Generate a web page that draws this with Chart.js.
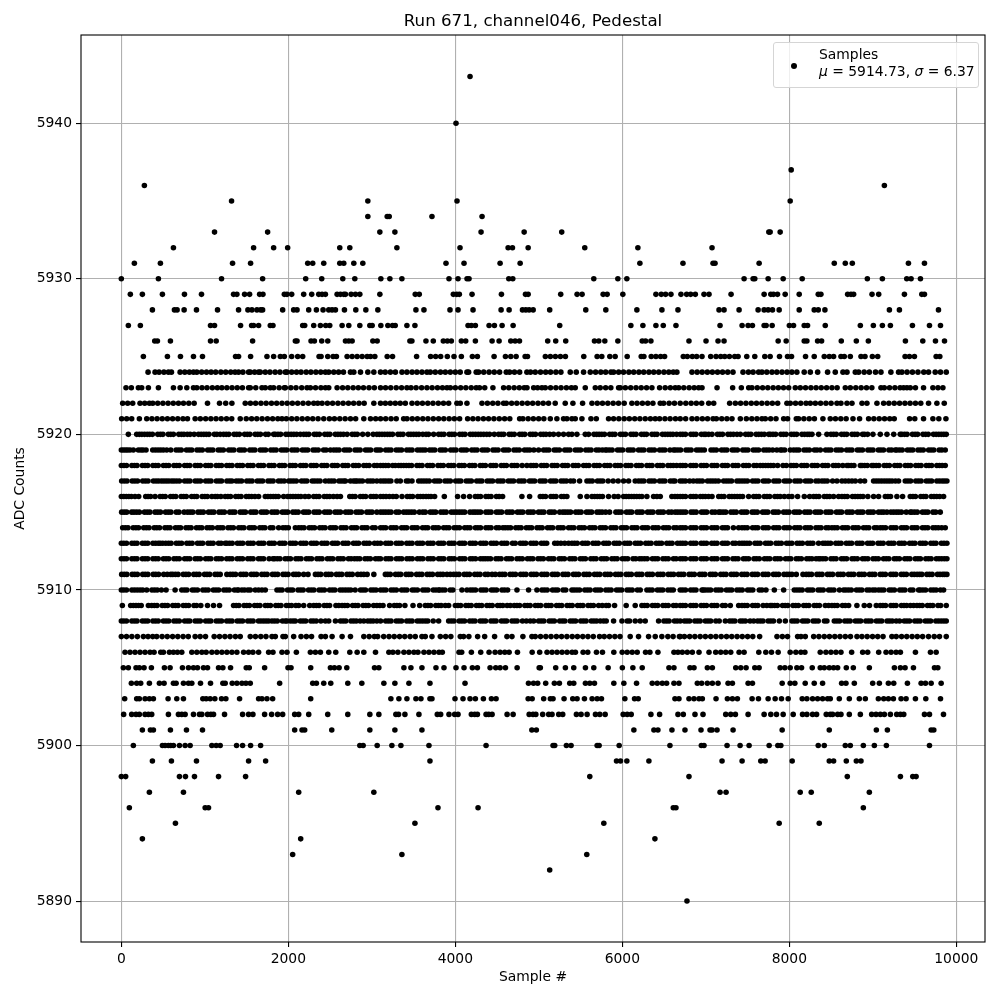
<!DOCTYPE html>
<html>
<head>
<meta charset="utf-8">
<title>Run 671 pedestal</title>
<script src="https://cdn.jsdelivr.net/npm/chart.js@4/dist/chart.umd.min.js"></script>
<style>
  body { margin: 0; background: #fff; }
  #wrap { position: relative; width: 1000px; height: 1000px; }
  #legend { position: absolute; left: 773px; top: 42px; width: 204px; height: 44px; border: 1px solid #d5d5d5; border-radius: 3px;
    background: rgba(255,255,255,0.8); font: 13.89px "DejaVu Sans"; color: #000; }
  #legend .dot { position: absolute; left: 17px; top: 20px; width: 6px; height: 6px; border-radius: 50%; background: #000; }
  #legend .txt { position: absolute; left: 45px; top: 3px; line-height: 17px; white-space: nowrap; }
</style>
</head>
<body>
<div id="wrap">
  <canvas id="chart" width="1000" height="1000"></canvas>
  <div id="legend"><span class="dot"></span><div class="txt">Samples<br><i>μ</i> = 5914.73, <i>σ</i> = 6.37</div></div>
</div>
<script>
// sample numbers, one list per ADC level
var row5943 = [4176];
var row5940 = [4008];
var row5937 = [8022];
var row5936 = [276, 9138];
var row5935 = [1320, 2952, 4020, 8010];
var row5934 = [2952, 3184, 3208, 3720, 4320];
var row5933 = [1116, 1752, 3096, 3276, 4308, 4824, 5274, 7754, 7770, 7890];
var row5932 = [624, 1584, 1824, 1992, 2616, 2736, 3300, 4056, 4632, 4684, 4872, 5550, 6186, 7074];
var row5931 = [156, 468, 1332, 1548, 2232, 2292, 2424, 2616, 2664, 2784, 2892, 3888, 4104, 4536, 4776, 6210, 6726, 7086, 7110, 7638, 8538, 8670, 8754, 9426, 9618];
var row5930 = [0, 444, 1200, 1692, 2208, 2400, 2652, 2796, 3108, 3216, 3360, 3924, 4032, 4140, 4164, 4640, 4688, 5658, 5946, 6054, 7458, 7566, 7586, 7746, 7926, 8154, 8934, 9114, 9406, 9458, 9570];
var row5929 = [108, 252, 492, 756, 960, 1344, 1384, 1476, 1536, 1656, 1696, 1952, 1984, 2040, 2184, 2280, 2364, 2404, 2444, 2584, 2624, 2664, 2684, 2752, 2804, 2856, 3096, 3520, 3568, 3976, 4016, 4048, 4200, 4552, 4840, 4872, 5262, 5458, 5518, 5770, 5818, 6006, 6402, 6466, 6518, 6582, 6702, 6770, 6818, 6874, 6978, 7038, 7302, 7698, 7778, 7810, 7858, 7950, 8118, 8346, 8378, 8698, 8738, 8770, 8990, 9070, 9378, 9586, 9618];
var row5928 = [372, 636, 668, 752, 900, 1152, 1404, 1516, 1564, 1624, 1668, 1692, 1932, 2064, 2104, 2244, 2336, 2416, 2484, 2524, 2564, 2672, 2808, 2928, 3072, 3528, 3624, 3936, 4032, 4212, 4548, 4644, 4804, 4844, 4884, 4932, 5130, 5562, 5802, 6174, 6474, 6666, 7158, 7218, 7398, 7626, 7698, 7746, 7798, 7878, 8118, 8298, 8346, 8426, 9198, 9318, 9786];
var row5927 = [84, 228, 1068, 1116, 1428, 1560, 1584, 1644, 1784, 1816, 2172, 2196, 2304, 2384, 2448, 2496, 2644, 2724, 2856, 2976, 3004, 3108, 3192, 3248, 3280, 3420, 3516, 4152, 4192, 4240, 4404, 4468, 4560, 4692, 5250, 6102, 6246, 6402, 6490, 6642, 7170, 7434, 7506, 7558, 7698, 7722, 7794, 8000, 8050, 8178, 8218, 8430, 8850, 9006, 9114, 9210, 9474, 9678, 9810];
var row5926 = [400, 432, 588, 1068, 1136, 1572, 2084, 2104, 2272, 2312, 2400, 2472, 2684, 2724, 2764, 3012, 3064, 3456, 3480, 3648, 3736, 3856, 3904, 3952, 4072, 4124, 4240, 4440, 4524, 4664, 4716, 4768, 5106, 5202, 5322, 5666, 5718, 5790, 5946, 6238, 6278, 6342, 6798, 7002, 7146, 7218, 7866, 7962, 8178, 8210, 8338, 8386, 8622, 8802, 8946, 9390, 9598, 9750, 9858];
var row5925 = [264, 552, 708, 864, 972, 1368, 1404, 1548, 1744, 1824, 1904, 1952, 2040, 2112, 2172, 2368, 2392, 2472, 2536, 2576, 2704, 2764, 2824, 2884, 2944, 2984, 3036, 3184, 3248, 3536, 3704, 3764, 3824, 3904, 3984, 4072, 4204, 4264, 4464, 4600, 4664, 4728, 4836, 4864, 5078, 5138, 5198, 5258, 5318, 5538, 5698, 5754, 5850, 5914, 6058, 6226, 6258, 6346, 6402, 6458, 6506, 6730, 6778, 6838, 6890, 6954, 7058, 7122, 7178, 7226, 7282, 7346, 7386, 7490, 7586, 7706, 7770, 7882, 7978, 8026, 8194, 8298, 8418, 8478, 8530, 8618, 8658, 8730, 8858, 8906, 8994, 9058, 9386, 9438, 9498, 9758, 9802];
var row5924 = [320, 404, 452, 510, 564, 600, 704, 760, 815, 864, 904, 962, 1020, 1075, 1130, 1192, 1250, 1310, 1362, 1404, 1456, 1524, 1544, 1596, 1644, 1664, 1724, 1780, 1842, 1900, 1964, 1984, 2040, 2098, 2152, 2214, 2270, 2330, 2388, 2444, 2484, 2544, 2602, 2660, 2744, 2784, 2864, 2952, 3024, 3104, 3160, 3222, 3282, 3361, 3420, 3482, 3540, 3600, 3660, 3700, 3760, 3822, 3880, 3940, 4000, 4058, 4139, 4159, 4250, 4279, 4340, 4404, 4466, 4530, 4610, 4650, 4708, 4770, 4857, 4900, 4957, 5020, 5082, 5140, 5204, 5264, 5376, 5448, 5536, 5616, 5680, 5742, 5800, 5863, 5895, 5956, 6014, 6078, 6136, 6198, 6256, 6318, 6376, 6436, 6498, 6556, 6610, 6653, 6834, 6896, 6956, 7018, 7078, 7140, 7200, 7262, 7325, 7445, 7510, 7566, 7632, 7672, 7730, 7792, 7850, 7912, 7972, 8030, 8090, 8178, 8251, 8339, 8458, 8550, 8642, 8690, 8790, 8830, 8896, 8958, 9032, 9097, 9216, 9308, 9348, 9410, 9474, 9540, 9610, 9667, 9747, 9810, 9879];
var row5923 = [56, 120, 204, 244, 324, 444, 624, 704, 784, 864, 904, 966, 1026, 1090, 1150, 1204, 1264, 1326, 1388, 1450, 1524, 1544, 1610, 1684, 1724, 1784, 1824, 1890, 1952, 1964, 2030, 2092, 2160, 2224, 2264, 2326, 2390, 2444, 2484, 2584, 2650, 2712, 2776, 2838, 2900, 2966, 3030, 3104, 3164, 3226, 3292, 3356, 3420, 3469, 3530, 3596, 3660, 3722, 3786, 3846, 3900, 3940, 4000, 4064, 4126, 4190, 4250, 4290, 4352, 4450, 4578, 4640, 4704, 4766, 4825, 4858, 4938, 4985, 5037, 5077, 5140, 5204, 5266, 5330, 5390, 5436, 5556, 5676, 5735, 5800, 5862, 5955, 5975, 6036, 6100, 6164, 6226, 6290, 6354, 6446, 6513, 6575, 6633, 6675, 6736, 6800, 6860, 6914, 6954, 7134, 7321, 7425, 7513, 7552, 7616, 7680, 7742, 7806, 7868, 7930, 7992, 8071, 8131, 8194, 8258, 8320, 8382, 8446, 8510, 8572, 8670, 8730, 8796, 8860, 8924, 8988, 9097, 9137, 9200, 9264, 9326, 9368, 9408, 9448, 9510, 9607, 9719, 9780, 9839];
var row5922 = [16, 76, 136, 224, 280, 336, 376, 436, 498, 560, 622, 684, 744, 808, 872, 1032, 1176, 1250, 1324, 1484, 1546, 1608, 1672, 1734, 1798, 1860, 1924, 1986, 2048, 2112, 2176, 2240, 2304, 2352, 2404, 2468, 2530, 2594, 2656, 2720, 2782, 2846, 2908, 3024, 3104, 3162, 3221, 3281, 3340, 3401, 3481, 3544, 3606, 3670, 3732, 3796, 3858, 3920, 4019, 4059, 4139, 4319, 4384, 4448, 4510, 4578, 4610, 4674, 4736, 4800, 4864, 4926, 4990, 5052, 5116, 5196, 5316, 5408, 5524, 5636, 5700, 5762, 5826, 5890, 5954, 6022, 6114, 6176, 6240, 6304, 6366, 6454, 6494, 6560, 6624, 6693, 6760, 6824, 6886, 6950, 7034, 7094, 7285, 7353, 7416, 7480, 7544, 7606, 7670, 7734, 7796, 7860, 7971, 8011, 8074, 8136, 8200, 8251, 8311, 8374, 8438, 8500, 8570, 8618, 8690, 8750, 8870, 8929, 9049, 9129, 9192, 9256, 9320, 9384, 9446, 9510, 9574, 9667, 9767, 9855];
var row5921 = [4, 64, 124, 216, 304, 366, 428, 490, 552, 614, 676, 738, 792, 884, 946, 1010, 1072, 1134, 1196, 1260, 1322, 1424, 1496, 1560, 1622, 1686, 1750, 1812, 1874, 1924, 1976, 2040, 2102, 2166, 2230, 2292, 2356, 2424, 2492, 2552, 2616, 2680, 2744, 2806, 2904, 2984, 3046, 3104, 3166, 3230, 3292, 3381, 3421, 3484, 3546, 3610, 3672, 3736, 3800, 3862, 3926, 3988, 4051, 4147, 4210, 4272, 4336, 4398, 4462, 4526, 4590, 4652, 4770, 4809, 4872, 4934, 4998, 5060, 5137, 5216, 5296, 5336, 5396, 5436, 5516, 5624, 5688, 5835, 5895, 5958, 6022, 6084, 6148, 6210, 6274, 6336, 6394, 6446, 6510, 6572, 6636, 6693, 6758, 6834, 6894, 6958, 7020, 7086, 7126, 7190, 7252, 7313, 7413, 7485, 7550, 7612, 7672, 7712, 7776, 7840, 7932, 7979, 8083, 8111, 8174, 8238, 8300, 8402, 8490, 8552, 8616, 8680, 8762, 8841, 8949, 9012, 9076, 9140, 9202, 9256, 9440, 9502, 9607, 9719, 9790, 9875];
var row5920 = [84, 184, 246, 310, 372, 436, 498, 562, 624, 688, 750, 824, 872, 924, 988, 1050, 1114, 1184, 1224, 1288, 1350, 1414, 1476, 1540, 1602, 1666, 1728, 1824, 1844, 1908, 1970, 2034, 2144, 2184, 2246, 2310, 2372, 2436, 2498, 2562, 2626, 2704, 2764, 2826, 2952, 3016, 3060, 3122, 3186, 3248, 3312, 3374, 3438, 3500, 3564, 3680, 3740, 3800, 3864, 3926, 3990, 4052, 4116, 4178, 4242, 4306, 4410, 4466, 4518, 4580, 4644, 4706, 4770, 4832, 4896, 4960, 5022, 5086, 5176, 5236, 5296, 5356, 5396, 5456, 5556, 5596, 5660, 5722, 5786, 5848, 5912, 5976, 6038, 6102, 6164, 6228, 6290, 6354, 6416, 6480, 6544, 6606, 6693, 6756, 6820, 6882, 6946, 7034, 7074, 7138, 7200, 7264, 7373, 7413, 7476, 7540, 7602, 7666, 7752, 7772, 7836, 7898, 7962, 8024, 8088, 8150, 8214, 8271, 8351, 8450, 8498, 8562, 8624, 8688, 8750, 8814, 8876, 8937, 9001, 9089, 9169, 9250, 9328, 9348, 9410, 9474, 9536, 9600, 9664, 9726, 9790, 9879];
var row5919 = [0, 52, 104, 144, 204, 296, 376, 440, 504, 592, 656, 718, 780, 844, 906, 970, 1034, 1096, 1160, 1222, 1286, 1348, 1412, 1474, 1538, 1600, 1664, 1728, 1790, 1854, 1916, 1980, 2042, 2106, 2168, 2232, 2296, 2358, 2422, 2504, 2544, 2608, 2670, 2734, 2798, 2860, 2924, 2986, 3050, 3104, 3166, 3230, 3292, 3356, 3418, 3482, 3546, 3640, 3692, 3754, 3818, 3880, 3944, 4008, 4070, 4134, 4196, 4260, 4322, 4386, 4450, 4512, 4576, 4638, 4702, 4766, 4828, 4892, 4997, 5057, 5120, 5184, 5246, 5310, 5372, 5436, 5500, 5562, 5626, 5688, 5795, 5815, 5878, 5942, 6004, 6068, 6130, 6194, 6258, 6320, 6384, 6446, 6510, 6613, 6635, 6698, 6762, 6824, 6888, 6982, 7062, 7126, 7188, 7252, 7316, 7378, 7442, 7504, 7568, 7632, 7694, 7758, 7892, 7912, 8011, 8051, 8114, 8176, 8240, 8331, 8371, 8434, 8498, 8560, 8624, 8686, 8750, 8814, 8876, 8940, 9002, 9066, 9128, 9192, 9268, 9288, 9352, 9414, 9478, 9540, 9604, 9668, 9730, 9794, 9867];
var row5918 = [0, 62, 126, 188, 252, 316, 378, 442, 504, 568, 630, 694, 758, 820, 884, 946, 1010, 1072, 1136, 1200, 1262, 1326, 1388, 1452, 1514, 1578, 1642, 1704, 1768, 1830, 1894, 1956, 2020, 2084, 2146, 2210, 2272, 2336, 2400, 2462, 2526, 2588, 2652, 2714, 2778, 2842, 2904, 2968, 3030, 3104, 3166, 3281, 3321, 3381, 3413, 3476, 3540, 3602, 3666, 3728, 3792, 3856, 3918, 3982, 4044, 4108, 4170, 4234, 4298, 4360, 4424, 4486, 4550, 4612, 4676, 4740, 4857, 4905, 4968, 5030, 5094, 5158, 5220, 5284, 5346, 5410, 5472, 5536, 5600, 5662, 5726, 5788, 5852, 5914, 5978, 6042, 6104, 6168, 6230, 6294, 6356, 6420, 6484, 6546, 6610, 6693, 6756, 6818, 6882, 6944, 7008, 7072, 7134, 7198, 7260, 7324, 7386, 7450, 7514, 7576, 7652, 7684, 7746, 7810, 7924, 7964, 8020, 8084, 8146, 8210, 8272, 8336, 8398, 8462, 8526, 8588, 8690, 8710, 8774, 8850, 8870, 8934, 8989, 9009, 9072, 9136, 9198, 9262, 9324, 9388, 9452, 9514, 9578, 9640, 9704, 9766, 9867];
var row5917 = [4, 68, 130, 194, 256, 320, 384, 446, 510, 604, 632, 696, 758, 822, 884, 948, 1010, 1074, 1138, 1200, 1264, 1324, 1376, 1440, 1502, 1566, 1628, 1692, 1756, 1818, 1882, 2004, 2032, 2096, 2158, 2222, 2286, 2348, 2444, 2484, 2548, 2664, 2684, 2804, 2824, 2888, 2950, 3014, 3104, 3166, 3228, 3341, 3413, 3481, 3561, 3624, 3688, 3750, 3814, 3876, 3940, 4004, 4066, 4130, 4192, 4256, 4318, 4382, 4446, 4508, 4572, 4634, 4698, 4760, 4824, 4888, 4950, 5014, 5076, 5140, 5204, 5266, 5330, 5416, 5488, 5576, 5640, 5702, 5766, 6015, 6075, 6154, 6194, 6258, 6320, 6384, 6446, 6510, 6574, 6693, 6756, 6806, 6894, 6958, 7020, 7084, 7213, 7245, 7308, 7372, 7434, 7498, 7560, 7624, 7688, 7750, 7814, 7876, 7940, 8002, 8066, 8130, 8192, 8256, 8351, 8391, 8454, 8518, 8630, 8670, 8750, 8790, 8850, 8901, 9009, 9072, 9136, 9198, 9308, 9388, 9452, 9514, 9578, 9640, 9704, 9766, 9830, 9887];
var row5916 = [0, 60, 120, 164, 208, 292, 350, 404, 464, 526, 590, 652, 716, 778, 842, 904, 968, 1030, 1084, 1124, 1192, 1244, 1308, 1370, 1434, 1496, 1560, 1644, 1724, 1788, 1850, 1944, 1992, 2056, 2118, 2244, 2304, 2368, 2430, 2494, 2584, 2624, 2736, 2800, 2862, 2926, 2988, 3052, 3104, 3170, 3253, 3293, 3361, 3424, 3488, 3550, 3614, 3708, 3752, 3868, 4027, 4099, 4171, 4239, 4302, 4366, 4428, 4492, 4566, 4797, 4889, 5017, 5080, 5144, 5206, 5270, 5336, 5496, 5576, 5636, 5700, 5762, 5835, 5902, 6015, 6078, 6140, 6204, 6294, 6374, 6454, 6593, 6693, 6756, 6818, 6882, 6934, 6994, 7074, 7154, 7218, 7280, 7344, 7408, 7513, 7573, 7636, 7700, 7764, 7826, 7890, 8031, 8099, 8179, 8243, 8291, 8354, 8418, 8482, 8590, 8630, 8694, 8756, 8820, 8882, 9009, 9069, 9149, 9212, 9288, 9356, 9448, 9510, 9574, 9636, 9700, 9764, 9847];
var row5915 = [4, 64, 124, 152, 216, 278, 342, 404, 468, 530, 594, 658, 752, 792, 856, 918, 982, 1044, 1108, 1170, 1234, 1298, 1360, 1424, 1486, 1550, 1612, 1676, 1740, 1802, 1866, 1928, 1992, 2054, 2118, 2182, 2244, 2308, 2370, 2434, 2498, 2560, 2624, 2686, 2750, 2812, 2876, 2940, 3002, 3104, 3166, 3230, 3292, 3381, 3413, 3476, 3640, 3700, 3764, 3826, 3890, 3952, 4016, 4080, 4211, 4239, 4302, 4366, 4428, 4492, 4554, 4618, 4682, 4744, 4808, 4870, 4934, 4996, 5060, 5124, 5186, 5288, 5316, 5380, 5442, 5506, 5570, 5632, 5696, 5758, 5847, 5923, 5986, 6050, 6112, 6176, 6238, 6302, 6366, 6428, 6492, 6554, 6633, 6695, 6758, 6822, 6884, 6948, 7010, 7074, 7154, 7174, 7238, 7300, 7364, 7426, 7490, 7554, 7616, 7680, 7742, 7806, 7868, 7932, 7996, 8058, 8122, 8184, 8248, 8310, 8374, 8438, 8500, 8564, 8626, 8690, 8754, 8816, 8880, 8942, 9006, 9068, 9169, 9216, 9280, 9342, 9448, 9468, 9532, 9594, 9658, 9720, 9807];
var row5914 = [16, 80, 142, 206, 268, 332, 394, 458, 522, 584, 648, 710, 774, 836, 900, 964, 1026, 1090, 1152, 1216, 1278, 1342, 1406, 1468, 1532, 1594, 1658, 1720, 1784, 1884, 1936, 2000, 2084, 2124, 2188, 2250, 2314, 2376, 2440, 2502, 2566, 2630, 2692, 2756, 2818, 2882, 2944, 3008, 3104, 3166, 3228, 3292, 3356, 3418, 3482, 3544, 3608, 3670, 3734, 3798, 3860, 3924, 3986, 4050, 4112, 4176, 4240, 4302, 4366, 4428, 4492, 4570, 4598, 4662, 4724, 4788, 4850, 4914, 4978, 5040, 5104, 5166, 5230, 5292, 5356, 5420, 5482, 5546, 5608, 5672, 5734, 5798, 5862, 5924, 5988, 6050, 6114, 6176, 6240, 6304, 6366, 6430, 6492, 6556, 6618, 6693, 6756, 6818, 6882, 6944, 7008, 7070, 7134, 7198, 7260, 7393, 7433, 7496, 7560, 7622, 7686, 7748, 7812, 7876, 7938, 8002, 8064, 8128, 8190, 8254, 8318, 8380, 8470, 8510, 8574, 8636, 8700, 8762, 8826, 8888, 8952, 9049, 9089, 9152, 9216, 9278, 9342, 9404, 9468, 9530, 9594, 9658, 9720, 9784, 9867];
var row5913 = [0, 62, 126, 188, 252, 316, 378, 442, 496, 532, 596, 658, 722, 784, 848, 912, 974, 1038, 1100, 1164, 1244, 1264, 1328, 1390, 1454, 1516, 1580, 1644, 1706, 1770, 1832, 1896, 1958, 2022, 2086, 2148, 2212, 2274, 2338, 2400, 2464, 2528, 2590, 2654, 2716, 2780, 2842, 2906, 2970, 3032, 3104, 3166, 3228, 3292, 3356, 3418, 3482, 3544, 3608, 3670, 3734, 3798, 3860, 3924, 3986, 4050, 4112, 4176, 4240, 4302, 4366, 4428, 4492, 4554, 4618, 4717, 4778, 4842, 4904, 4968, 5030, 5094, 5224, 5264, 5356, 5396, 5460, 5522, 5586, 5648, 5712, 5776, 5838, 5902, 5964, 6028, 6090, 6154, 6218, 6280, 6344, 6406, 6470, 6532, 6596, 6693, 6756, 6818, 6882, 6944, 7008, 7070, 7134, 7198, 7260, 7324, 7433, 7461, 7524, 7588, 7650, 7714, 7776, 7840, 7904, 7966, 8030, 8092, 8156, 8218, 8282, 8402, 8430, 8494, 8556, 8620, 8682, 8746, 8810, 8872, 8936, 8998, 9062, 9124, 9188, 9252, 9314, 9378, 9440, 9504, 9566, 9630, 9694, 9756, 9820, 9887];
var row5912 = [0, 62, 126, 188, 252, 316, 378, 442, 504, 568, 630, 694, 758, 820, 884, 946, 1010, 1072, 1136, 1200, 1262, 1326, 1388, 1452, 1514, 1578, 1642, 1704, 1816, 1836, 1900, 1962, 2026, 2090, 2152, 2216, 2278, 2342, 2404, 2468, 2532, 2594, 2658, 2752, 2792, 2856, 2918, 2982, 3044, 3104, 3168, 3230, 3294, 3358, 3420, 3484, 3546, 3610, 3672, 3736, 3800, 3862, 3926, 3988, 4052, 4114, 4178, 4242, 4331, 4359, 4422, 4486, 4548, 4612, 4674, 4738, 4802, 4864, 4928, 4990, 5054, 5116, 5180, 5244, 5306, 5370, 5432, 5496, 5558, 5622, 5686, 5748, 5812, 5874, 5938, 6000, 6064, 6128, 6206, 6234, 6298, 6360, 6424, 6486, 6550, 6612, 6693, 6756, 6818, 6882, 6944, 7008, 7070, 7134, 7198, 7260, 7324, 7386, 7450, 7512, 7576, 7640, 7702, 7766, 7828, 7892, 7954, 8018, 8082, 8144, 8208, 8270, 8351, 8371, 8434, 8498, 8560, 8624, 8686, 8750, 8814, 8876, 8940, 9002, 9066, 9128, 9192, 9256, 9318, 9382, 9444, 9508, 9570, 9634, 9698, 9760, 9824, 9887];
var row5911 = [4, 66, 130, 192, 256, 318, 382, 446, 508, 592, 616, 680, 742, 806, 868, 932, 996, 1058, 1122, 1184, 1264, 1304, 1368, 1430, 1494, 1556, 1620, 1682, 1746, 1810, 1872, 1936, 1998, 2062, 2124, 2184, 2236, 2324, 2388, 2450, 2514, 2576, 2640, 2702, 2766, 2830, 2904, 2944, 3024, 3162, 3221, 3284, 3346, 3410, 3472, 3536, 3600, 3662, 3726, 3788, 3852, 3940, 3980, 4044, 4106, 4170, 4232, 4296, 4358, 4479, 4530, 4594, 4656, 4720, 4782, 4846, 4908, 4972, 5034, 5098, 5162, 5224, 5288, 5350, 5414, 5476, 5540, 5604, 5666, 5730, 5792, 5856, 5918, 5982, 6046, 6108, 6172, 6234, 6298, 6360, 6424, 6488, 6550, 6614, 6673, 6736, 6800, 6862, 6926, 6988, 7052, 7114, 7178, 7242, 7304, 7368, 7430, 7494, 7556, 7620, 7684, 7746, 7810, 7872, 7936, 8031, 8083, 8163, 8203, 8266, 8330, 8392, 8456, 8518, 8582, 8646, 8708, 8772, 8834, 8898, 8960, 9024, 9088, 9150, 9214, 9276, 9340, 9402, 9466, 9530, 9587, 9647, 9710, 9774, 9836, 9887];
var row5910 = [0, 62, 126, 190, 256, 304, 366, 430, 536, 644, 724, 786, 850, 912, 976, 1040, 1102, 1166, 1228, 1292, 1354, 1404, 1444, 1544, 1604, 1684, 1724, 1864, 1926, 1990, 2052, 2116, 2178, 2242, 2306, 2368, 2432, 2494, 2558, 2620, 2684, 2748, 2864, 2924, 2988, 3050, 3104, 3168, 3230, 3294, 3356, 3420, 3484, 3546, 3610, 3672, 3736, 3800, 3812, 3876, 3938, 4079, 4139, 4179, 4242, 4306, 4368, 4432, 4494, 4558, 4626, 4738, 4877, 4977, 5037, 5100, 5164, 5226, 5290, 5396, 5424, 5488, 5550, 5614, 5676, 5740, 5802, 5866, 5930, 5992, 6056, 6118, 6214, 6294, 6358, 6420, 6484, 6546, 6610, 6693, 6756, 6818, 6882, 6954, 6994, 7058, 7120, 7184, 7246, 7310, 7372, 7436, 7500, 7562, 7672, 7720, 7820, 7932, 8059, 8091, 8154, 8218, 8280, 8344, 8406, 8470, 8534, 8650, 8678, 8742, 8804, 8868, 8930, 9029, 9069, 9132, 9196, 9258, 9322, 9384, 9448, 9548, 9568, 9632, 9694, 9758, 9847];
var row5909 = [12, 112, 176, 238, 324, 364, 428, 490, 554, 616, 680, 742, 806, 870, 952, 1032, 1104, 1176, 1344, 1408, 1470, 1534, 1596, 1660, 1724, 1786, 1850, 1912, 1976, 2038, 2124, 2184, 2256, 2304, 2368, 2430, 2494, 2604, 2644, 2708, 2770, 2834, 2896, 2960, 3022, 3096, 3134, 3213, 3269, 3332, 3396, 3493, 3573, 3640, 3704, 3766, 3830, 3920, 4000, 4064, 4126, 4190, 4252, 4316, 4378, 4442, 4506, 4568, 4658, 4706, 4770, 4832, 4896, 4958, 5022, 5086, 5148, 5212, 5274, 5338, 5400, 5464, 5528, 5590, 5654, 5716, 5807, 5835, 5907, 6046, 6154, 6234, 6298, 6360, 6424, 6486, 6550, 6612, 6693, 6756, 6818, 6882, 6944, 7008, 7070, 7134, 7233, 7293, 7393, 7433, 7496, 7560, 7622, 7686, 7772, 7792, 7856, 7918, 7982, 8044, 8108, 8172, 8234, 8298, 8360, 8470, 8510, 8574, 8636, 8710, 8809, 8897, 8960, 9041, 9089, 9152, 9216, 9278, 9342, 9404, 9488, 9528, 9592, 9654, 9718, 9780, 9879];
var row5908 = [0, 62, 126, 188, 252, 316, 378, 442, 504, 568, 630, 694, 758, 820, 884, 946, 1010, 1072, 1136, 1200, 1262, 1326, 1388, 1452, 1514, 1578, 1642, 1704, 1764, 1804, 1868, 1930, 1984, 2024, 2084, 2144, 2208, 2270, 2334, 2444, 2484, 2564, 2624, 2688, 2750, 2814, 2904, 2952, 3016, 3104, 3166, 3230, 3292, 3356, 3418, 3482, 3544, 3608, 3670, 3800, 3920, 3984, 4046, 4110, 4172, 4236, 4298, 4362, 4426, 4488, 4552, 4614, 4678, 4740, 4804, 4897, 4938, 4997, 5060, 5124, 5186, 5250, 5312, 5376, 5440, 5502, 5566, 5628, 5692, 5775, 5807, 5895, 5995, 6058, 6154, 6214, 6274, 6434, 6498, 6560, 6624, 6693, 6743, 6806, 6868, 6932, 6994, 7058, 7120, 7233, 7285, 7348, 7412, 7474, 7573, 7620, 7684, 7746, 7810, 7952, 8031, 8094, 8158, 8220, 8284, 8346, 8450, 8538, 8602, 8664, 8728, 8790, 8854, 8916, 8980, 9042, 9106, 9170, 9232, 9320, 9376, 9440, 9502, 9566, 9628, 9692, 9754, 9818, 9879];
var row5907 = [0, 62, 126, 192, 264, 320, 376, 424, 488, 550, 614, 676, 740, 802, 884, 944, 1008, 1112, 1176, 1240, 1302, 1366, 1424, 1544, 1606, 1670, 1732, 1804, 1844, 1936, 1964, 2064, 2152, 2216, 2278, 2392, 2444, 2524, 2644, 2744, 2904, 2968, 3030, 3070, 3142, 3206, 3268, 3332, 3394, 3458, 3520, 3600, 3640, 3720, 3820, 3884, 3946, 4059, 4099, 4162, 4267, 4351, 4470, 4618, 4678, 4809, 4917, 4957, 5020, 5084, 5146, 5210, 5272, 5336, 5400, 5462, 5526, 5588, 5652, 5727, 5783, 5846, 5910, 5972, 6094, 6194, 6314, 6394, 6473, 6545, 6608, 6693, 6683, 6743, 6806, 6868, 6932, 6994, 7058, 7120, 7184, 7248, 7310, 7374, 7436, 7500, 7562, 7644, 7852, 7916, 7978, 8099, 8139, 8191, 8291, 8354, 8418, 8480, 8544, 8606, 8670, 8732, 8810, 8869, 8932, 8996, 9058, 9122, 9228, 9280, 9344, 9406, 9470, 9532, 9596, 9667, 9735, 9798, 9879];
var row5906 = [44, 104, 164, 224, 284, 344, 392, 472, 504, 576, 624, 672, 724, 844, 904, 964, 1016, 1084, 1144, 1204, 1264, 1324, 1384, 1464, 1524, 1576, 1644, 1764, 1816, 1924, 1984, 2096, 2264, 2324, 2384, 2484, 2568, 2736, 2824, 2904, 3044, 3204, 3252, 3312, 3384, 3444, 3504, 3552, 3624, 3684, 3744, 3804, 3844, 4044, 4076, 4192, 4304, 4404, 4476, 4536, 4592, 4644, 4744, 4920, 5010, 5098, 5158, 5218, 5278, 5338, 5398, 5438, 5530, 5586, 5690, 5762, 5898, 5998, 6058, 6118, 6178, 6278, 6330, 6426, 6618, 6666, 6718, 6778, 6838, 6918, 7038, 7118, 7178, 7238, 7298, 7398, 7458, 7634, 7718, 7786, 7866, 8010, 8078, 8138, 8186, 8370, 8438, 8498, 8558, 8618, 8746, 8878, 8938, 9070, 9158, 9218, 9278, 9330, 9510, 9690, 9758];
var row5905 = [24, 84, 176, 216, 272, 360, 516, 584, 732, 804, 864, 912, 984, 1032, 1164, 1216, 1308, 1496, 1532, 1716, 1996, 2032, 2268, 2504, 2552, 2608, 2700, 3032, 3084, 3384, 3468, 3600, 3768, 3864, 4008, 4104, 4204, 4264, 4416, 4484, 4536, 4600, 4740, 5004, 5018, 5202, 5318, 5418, 5558, 5658, 5830, 6000, 6126, 6238, 6558, 6618, 6810, 6858, 7018, 7078, 7358, 7418, 7482, 7586, 7638, 7890, 7946, 8010, 8090, 8146, 8274, 8370, 8418, 8478, 8530, 8578, 8682, 8766, 8958, 9258, 9330, 9386, 9486, 9738, 9778];
var row5904 = [120, 184, 232, 336, 456, 512, 624, 656, 744, 804, 844, 948, 1068, 1216, 1244, 1328, 1384, 1444, 1492, 1544, 1896, 2292, 2336, 2424, 2508, 2712, 2880, 3144, 3276, 3444, 3696, 4116, 4876, 4936, 4986, 5082, 5186, 5246, 5370, 5418, 5558, 5610, 5666, 5898, 6018, 6170, 6358, 6418, 6478, 6530, 6618, 6678, 6898, 6950, 7018, 7078, 7146, 7266, 7318, 7506, 7558, 7914, 8010, 8066, 8190, 8298, 8398, 8626, 8678, 8778, 8998, 9078, 9186, 9250, 9414, 9578, 9630, 9698, 9818];
var row5903 = [40, 184, 216, 284, 336, 384, 560, 664, 744, 976, 1016, 1064, 1120, 1200, 1252, 1416, 1644, 1684, 1744, 1812, 2268, 3228, 3324, 3420, 3528, 3588, 3696, 3720, 3996, 4092, 4176, 4240, 4336, 4432, 4488, 4872, 4920, 5058, 5138, 5170, 5302, 5406, 5458, 5546, 5638, 5698, 5750, 6030, 6146, 6190, 6630, 6678, 6798, 6858, 6918, 6958, 7122, 7258, 7318, 7378, 7554, 7630, 7746, 7830, 7906, 7986, 8154, 8210, 8278, 8338, 8398, 8458, 8490, 8598, 8718, 8838, 8910, 9066, 9130, 9186, 9246, 9338, 9398, 9510, 9634, 9810];
var row5902 = [28, 124, 176, 216, 284, 324, 364, 564, 684, 724, 764, 864, 936, 964, 1032, 1072, 1104, 1236, 1452, 1524, 1576, 1716, 1800, 1872, 1932, 2076, 2124, 2244, 2472, 2712, 2976, 3084, 3288, 3320, 3396, 3564, 3784, 3824, 3924, 3992, 4032, 4192, 4232, 4264, 4368, 4400, 4440, 4620, 4692, 4884, 4930, 4964, 5046, 5118, 5158, 5238, 5286, 5450, 5506, 5578, 5678, 5730, 5794, 6010, 6058, 6106, 6342, 6446, 6666, 6730, 6870, 6966, 7238, 7298, 7354, 7506, 7698, 7778, 7846, 7926, 8046, 8158, 8210, 8278, 8326, 8442, 8490, 8518, 8578, 8618, 8718, 8850, 8986, 9038, 9090, 9138, 9210, 9286, 9330, 9370, 9618, 9678, 9846];
var row5901 = [252, 348, 384, 588, 780, 972, 2076, 2164, 2196, 2520, 2976, 3276, 3600, 4916, 4970, 6138, 6378, 6426, 6594, 6750, 6942, 7050, 7074, 7134, 7326, 7914, 8478, 9042, 9174, 9698, 9730];
var row5900 = [144, 492, 524, 564, 592, 624, 696, 764, 824, 1084, 1136, 1184, 1380, 1452, 1548, 1668, 2856, 2896, 3064, 3240, 3348, 3684, 4368, 5170, 5190, 5330, 5386, 5698, 5722, 5962, 6570, 6946, 6978, 7254, 7410, 7518, 7758, 7862, 7898, 8346, 8418, 8670, 8730, 8886, 9018, 9162, 9678];
var row5899 = [372, 600, 900, 1524, 1728, 3696, 5930, 5978, 6054, 6318, 7194, 7434, 7658, 7710, 8034, 8478, 8530, 8682, 8802, 8858];
var row5898 = [0, 52, 696, 768, 876, 1164, 1488, 5610, 6798, 8694, 9330, 9478, 9518];
var row5897 = [336, 744, 2124, 3024, 7170, 7242, 8130, 8262, 8958];
var row5896 = [96, 1004, 1044, 3792, 4272, 6610, 6642, 8886];
var row5895 = [648, 3516, 5778, 7878, 8358];
var row5894 = [252, 2148, 6390];
var row5893 = [2052, 3360, 5574];
var row5892 = [5130];
var row5890 = [6774];

// more samples on the crowded levels, where the dots run together
var more5920 = [216, 278, 340, 468, 592, 720, 790, 956, 1018, 1144, 1256, 1382, 1508, 1634, 1760, 1876, 2000, 2066, 2100, 2215, 2340, 2468, 2594, 2660, 2796, 2890, 3090, 3154, 3216, 3342, 3468, 3532, 3610, 3650, 3832, 3958, 4084, 4210, 4274, 4340, 4376, 4550, 4674, 4800, 4928, 5054, 5130, 5692, 5754, 5880, 6006, 6132, 6260, 6386, 6512, 6574, 6650, 6724, 6850, 6978, 7000, 7168, 7296, 7330, 7508, 7634, 7700, 7804, 7930, 8056, 8182, 8240, 8530, 8656, 8782, 8900, 9380, 9506, 9632, 9758, 9820, 9850];
var more5919 = [26, 76, 234, 260, 408, 472, 544, 688, 812, 938, 1064, 1190, 1316, 1442, 1568, 1696, 1822, 1948, 2074, 2200, 2326, 2452, 2576, 2702, 2828, 2954, 3076, 3198, 3324, 3450, 3578, 3610, 3722, 3848, 3976, 4102, 4228, 4354, 4480, 4606, 4734, 4860, 4940, 5088, 5214, 5340, 5468, 5594, 5720, 5760, 5846, 5972, 6098, 6226, 6352, 6478, 6570, 6666, 6792, 6918, 6950, 7094, 7220, 7346, 7472, 7600, 7726, 7800, 7850, 7944, 8083, 8208, 8300, 8466, 8592, 8718, 8844, 8970, 9096, 9224, 9320, 9446, 9572, 9698, 9826];
var more5918 = [32, 158, 284, 410, 536, 662, 788, 914, 1042, 1168, 1294, 1420, 1546, 1672, 1798, 1924, 2052, 2178, 2304, 2430, 2556, 2682, 2808, 2936, 3062, 3135, 3198, 3250, 3350, 3444, 3570, 3696, 3824, 3950, 4076, 4202, 4328, 4454, 4582, 4708, 4800, 4936, 5062, 5188, 5314, 5440, 5568, 5694, 5820, 5946, 6072, 6198, 6326, 6452, 6578, 6650, 6724, 6850, 6976, 7102, 7230, 7356, 7482, 7608, 7716, 7778, 7860, 8052, 8178, 8304, 8430, 8556, 8640, 8742, 8902, 9040, 9166, 9294, 9420, 9546, 9672, 9798, 9830];
var more5917 = [36, 162, 288, 416, 480, 540, 570, 664, 790, 916, 1042, 1170, 1296, 1408, 1534, 1660, 1786, 1914, 1950, 2064, 2190, 2316, 2380, 2516, 2606, 2634, 2744, 2780, 2856, 2982, 3060, 3136, 3198, 3300, 3440, 3592, 3656, 3782, 3908, 4036, 4162, 4288, 4414, 4540, 4666, 4792, 4918, 5046, 5172, 5298, 5380, 5608, 5734, 5830, 5890, 5950, 6226, 6352, 6478, 6606, 6630, 6724, 6850, 6926, 7052, 7116, 7150, 7276, 7402, 7466, 7592, 7718, 7844, 7970, 8098, 8224, 8318, 8422, 8570, 8710, 9040, 9104, 9168, 9230, 9270, 9420, 9546, 9672, 9798, 9858];
var more5916 = [30, 90, 320, 495, 620, 746, 874, 1000, 1150, 1276, 1402, 1528, 1600, 1756, 1820, 1880, 2024, 2088, 2150, 2200, 2336, 2462, 2540, 2768, 2894, 3020, 3136, 3210, 3456, 3582, 3650, 3680, 4270, 4396, 4524, 5048, 5174, 5300, 5668, 5730, 5950, 6046, 6110, 6172, 6234, 6414, 6630, 6660, 6724, 6850, 6964, 7032, 7186, 7312, 7376, 7440, 7604, 7732, 7858, 7940, 7990, 8322, 8450, 8530, 8662, 8788, 8850, 8940, 9180, 9480, 9606, 9732, 9800];
var more5915 = [34, 184, 310, 436, 562, 690, 824, 950, 1076, 1202, 1330, 1456, 1582, 1708, 1834, 1960, 2086, 2212, 2340, 2466, 2592, 2718, 2844, 2970, 3060, 3135, 3198, 3324, 3444, 3508, 3570, 3610, 3732, 3858, 3984, 4048, 4112, 4176, 4270, 4396, 4522, 4650, 4776, 4902, 5028, 5154, 5250, 5348, 5474, 5600, 5726, 5800, 5955, 6082, 6208, 6334, 6460, 6590, 6664, 6726, 6852, 6978, 7110, 7206, 7332, 7458, 7584, 7710, 7836, 7964, 8090, 8216, 8342, 8470, 8596, 8722, 8848, 8974, 9100, 9130, 9248, 9310, 9400, 9500, 9626, 9752];
var more5914 = [48, 175, 300, 425, 553, 680, 805, 932, 1058, 1184, 1310, 1437, 1563, 1690, 1815, 1968, 2156, 2282, 2408, 2535, 2660, 2788, 2914, 3040, 3135, 3260, 3387, 3513, 3640, 3766, 3892, 4018, 4144, 4270, 4397, 4523, 4630, 4756, 4882, 5009, 5135, 5261, 5388, 5514, 5640, 5766, 5893, 6019, 6145, 6272, 6398, 6524, 6650, 6724, 6850, 6976, 7102, 7229, 7330, 7465, 7592, 7718, 7844, 7970, 8096, 8222, 8349, 8440, 8542, 8668, 8794, 8920, 9020, 9120, 9247, 9373, 9499, 9625, 9752, 9825];
var more5913 = [30, 157, 284, 410, 465, 565, 690, 816, 943, 1069, 1195, 1296, 1422, 1548, 1675, 1801, 1927, 2054, 2180, 2306, 2433, 2559, 2685, 2812, 2938, 3068, 3197, 3324, 3450, 3576, 3702, 3829, 3955, 4081, 4208, 4334, 4460, 4586, 4685, 4810, 4936, 5062, 5190, 5310, 5428, 5555, 5681, 5807, 5933, 6060, 6186, 6312, 6439, 6565, 6660, 6724, 6850, 6976, 7102, 7229, 7355, 7400, 7492, 7619, 7745, 7871, 7998, 8124, 8250, 8350, 8462, 8588, 8715, 8841, 8967, 9093, 9220, 9346, 9472, 9598, 9725, 9852];
var more5912 = [32, 158, 284, 410, 536, 662, 788, 915, 1041, 1167, 1294, 1420, 1546, 1672, 1770, 1868, 1994, 2120, 2247, 2373, 2500, 2626, 2720, 2824, 2950, 3076, 3200, 3326, 3452, 3578, 3704, 3830, 3956, 4082, 4208, 4300, 4390, 4516, 4642, 4770, 4896, 5022, 5148, 5274, 5400, 5527, 5654, 5780, 5906, 6032, 6160, 6266, 6392, 6518, 6644, 6724, 6850, 6976, 7102, 7228, 7354, 7480, 7606, 7734, 7860, 7986, 8112, 8238, 8320, 8402, 8528, 8654, 8780, 8906, 9034, 9160, 9286, 9412, 9540, 9666, 9792, 9856];
var more5911 = [35, 160, 286, 412, 550, 648, 774, 900, 1026, 1152, 1336, 1462, 1588, 1714, 1840, 1966, 2092, 2356, 2482, 2608, 2734, 2870, 3190, 3316, 3442, 3568, 3694, 3820, 3900, 4012, 4138, 4264, 4390, 4440, 4562, 4688, 4814, 4940, 5066, 5192, 5318, 5444, 5572, 5698, 5824, 5950, 6076, 6202, 6328, 6456, 6582, 6704, 6830, 6956, 7082, 7210, 7336, 7462, 7588, 7714, 7840, 7970, 8000, 8234, 8360, 8486, 8614, 8740, 8866, 8992, 9118, 9244, 9370, 9496, 9560, 9678, 9804, 9860];
var more5910 = [30, 158, 224, 398, 480, 756, 880, 1008, 1134, 1260, 1386, 1476, 1516, 1644, 1896, 2022, 2148, 2274, 2400, 2526, 2652, 2716, 2800, 2894, 3018, 3136, 3262, 3388, 3514, 3640, 3768, 3844, 3970, 4210, 4336, 4462, 4590, 5068, 5196, 5322, 5456, 5582, 5708, 5834, 5960, 6086, 6180, 6326, 6452, 6580, 6724, 6850, 6970, 7026, 7152, 7278, 7404, 7530, 7640, 8122, 8248, 8374, 8500, 8600, 8710, 8836, 8962, 9000, 9100, 9226, 9352, 9480, 9600, 9726, 9810];
var more5909 = [144, 206, 396, 522, 648, 774, 900, 1376, 1502, 1628, 1754, 1880, 2006, 2090, 2336, 2462, 2570, 2676, 2802, 2928, 3060, 3300, 3672, 3798, 3880, 4032, 4158, 4284, 4410, 4536, 4620, 4738, 4864, 4990, 5116, 5242, 5370, 5496, 5622, 5760, 6266, 6392, 6518, 6644, 6724, 6850, 6976, 7102, 7200, 7465, 7592, 7730, 7824, 7950, 8076, 8202, 8328, 8430, 8542, 8670, 9120, 9247, 9373, 9450, 9560, 9686, 9812];
var more5908 = [30, 158, 284, 410, 536, 662, 790, 916, 1042, 1168, 1294, 1420, 1546, 1672, 1734, 1836, 1962, 2056, 2176, 2300, 2390, 2656, 2782, 2860, 2984, 3060, 3198, 3324, 3450, 3576, 3640, 3735, 3952, 4078, 4204, 4330, 4458, 4584, 4710, 4850, 5028, 5156, 5282, 5408, 5534, 5660, 5736, 6086, 6530, 6656, 6774, 6900, 7026, 7160, 7316, 7442, 7530, 7652, 7778, 7880, 8062, 8188, 8314, 8420, 8570, 8696, 8822, 8948, 9074, 9200, 9280, 9408, 9534, 9660, 9786, 9850];

var adcLevels = [5943, 5940, 5937, 5936, 5935, 5934, 5933, 5932, 5931, 5930, 5929, 5928, 5927, 5926, 5925, 5924, 5923, 5922, 5921, 5920, 5919, 5918, 5917, 5916, 5915, 5914, 5913, 5912, 5911, 5910, 5909, 5908, 5907, 5906, 5905, 5904, 5903, 5902, 5901, 5900, 5899, 5898, 5897, 5896, 5895, 5894, 5893, 5892, 5890];
var levelRows = [row5943, row5940, row5937, row5936, row5935, row5934, row5933, row5932, row5931, row5930, row5929, row5928, row5927, row5926, row5925, row5924, row5923, row5922, row5921, row5920, row5919, row5918, row5917, row5916, row5915, row5914, row5913, row5912, row5911, row5910, row5909, row5908, row5907, row5906, row5905, row5904, row5903, row5902, row5901, row5900, row5899, row5898, row5897, row5896, row5895, row5894, row5893, row5892, row5890];
var moreLevels = [5920, 5919, 5918, 5917, 5916, 5915, 5914, 5913, 5912, 5911, 5910, 5909, 5908];
var moreRows = [more5920, more5919, more5918, more5917, more5916, more5915, more5914, more5913, more5912, more5911, more5910, more5909, more5908];
var xTicks = [0, 2000, 4000, 6000, 8000, 10000];
var yTicks = [5890, 5900, 5910, 5920, 5930, 5940];

var points = [];
adcLevels.forEach(function(level, i){
  levelRows[i].forEach(function(sample){
    points.push({x: sample, y: level});
  });
});
moreLevels.forEach(function(level, i){
  moreRows[i].forEach(function(sample){
    points.push({x: sample, y: level});
  });
});

var font = 'DejaVu Sans';

// matplotlib style frame on all four sides
var framePlugin = {
  id: 'frame',
  afterDraw: function(chart){
    var a = chart.chartArea, c = chart.ctx;
    c.save();
    c.strokeStyle = '#000';
    c.lineWidth = 1.1;
    c.strokeRect(a.left, a.top, a.right - a.left, a.bottom - a.top);
    c.restore();
  }
};

var chart = new Chart(document.getElementById('chart'), {
  type: 'scatter',
  data: {
    datasets: [{
      label: 'Samples',
      data: points,
      backgroundColor: '#000',
      borderWidth: 0,
      pointRadius: 2.78
    }]
  },
  options: {
    responsive: false,
    animation: false,
    layout: {padding: {left: 0, right: 15, top: 0, bottom: 0}},
    plugins: {
      legend: {display: false},
      tooltip: {enabled: false},
      title: {
        display: true,
        fullSize: false,
        text: 'Run 671, channel046, Pedestal',
        color: '#000',
        font: {family: font, size: 16.67, weight: 'normal'},
        padding: {top: 12, bottom: 3}
      }
    },
    scales: {
      x: {
        type: 'linear',
        min: -483,
        max: 10343,
        afterFit: function(s){ s.height = 58; },
        afterBuildTicks: function(s){ s.ticks = xTicks.map(function(v){ return {value: v}; }); },
        grid: {color: '#b0b0b0', lineWidth: 1.1, tickColor: '#000', tickLength: 5},
        border: {display: false},
        ticks: {color: '#000', maxRotation: 0, autoSkip: false, padding: 4, font: {family: font, size: 13.89},
          callback: function(v){ return String(v); }},
        title: {display: true, text: 'Sample #', color: '#000', font: {family: font, size: 13.89}, padding: {top: 4, bottom: 14}}
      },
      y: {
        min: 5887.37,
        max: 5945.67,
        afterFit: function(s){ s.width = 81; },
        afterBuildTicks: function(s){ s.ticks = yTicks.map(function(v){ return {value: v}; }); },
        grid: {color: '#b0b0b0', lineWidth: 1.1, tickColor: '#000', tickLength: 5},
        border: {display: false},
        ticks: {color: '#000', autoSkip: false, padding: 4, font: {family: font, size: 13.89},
          callback: function(v){ return String(v); }},
        title: {display: true, text: 'ADC Counts', color: '#000', font: {family: font, size: 13.89}, padding: {top: 12, bottom: 0}}
      }
    }
  },
  plugins: [framePlugin]
});
</script>
</body>
</html>
